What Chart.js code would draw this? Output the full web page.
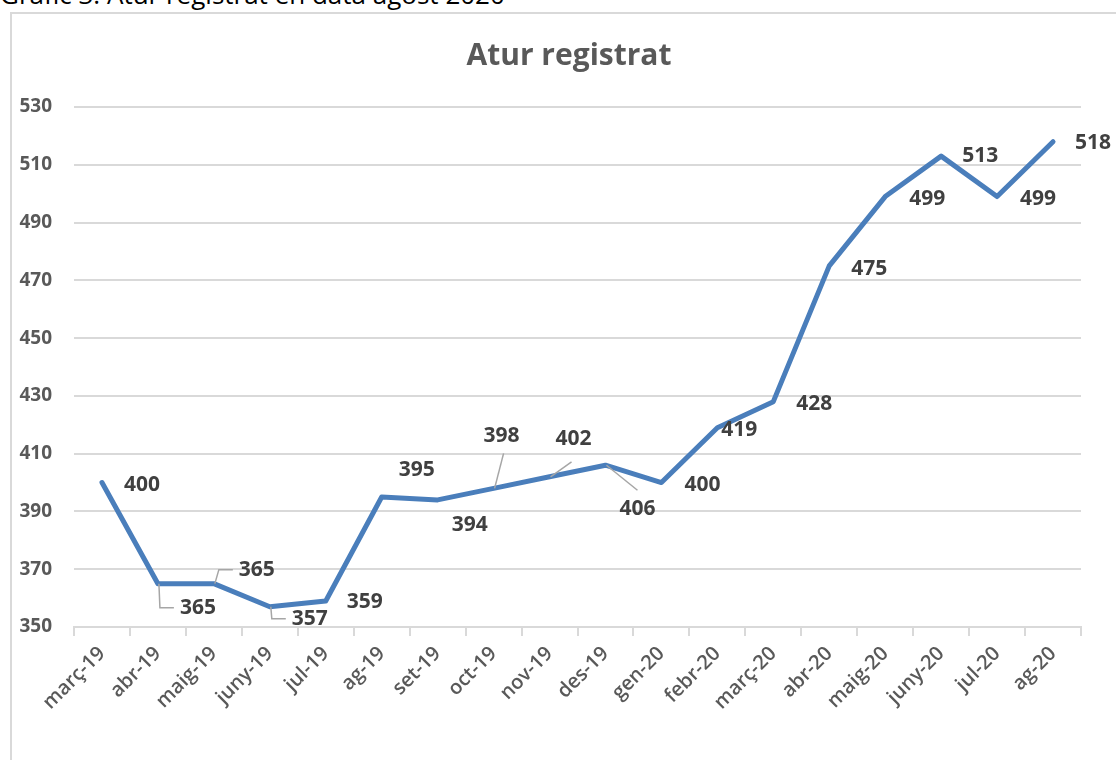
<!DOCTYPE html>
<html>
<head>
<meta charset="utf-8">
<script src="https://cdn.jsdelivr.net/npm/chart.js@4.4.0/dist/chart.umd.min.js"></script>
<style>
  body { margin: 0; background: #fff; width: 1116px; height: 760px; overflow: hidden; position: relative; }
  .caption { position: absolute; left: 0; top: -24px; font: 26px "Open Sans", sans-serif; color: #000; white-space: nowrap; }
  .box { position: absolute; left: 10px; top: 12px; width: 1120px; height: 760px; border: 2px solid #d9d9d9; box-sizing: border-box; }
  canvas { position: absolute; left: 0; top: 0; }
</style>
</head>
<body>
<div class="caption">Gràfic 3. Atur registrat en data agost 2020</div>
<div class="box"></div>
<canvas id="chart" width="1116" height="760"></canvas>
<script>
// Data
const months = ['març-19', 'abr-19', 'maig-19', 'juny-19', 'jul-19', 'ag-19', 'set-19', 'oct-19', 'nov-19',
  'des-19', 'gen-20', 'febr-20', 'març-20', 'abr-20', 'maig-20', 'juny-20', 'jul-20', 'ag-20'];
const unemployed = [400, 365, 365, 357, 359, 395, 394, 398, 402, 406, 400, 419, 428, 475, 499, 513, 499, 518];
const yMin = 350;
const yMax = 530;
const yStep = 20;

// Label placement (pixel offsets from the point, and leader lines)
const labelOffsets = [
  [40, 2], [40, 24], [43, -14], [40, 12], [39, 1], [35, -27], [32, 25], [8, -52], [24, -38],
  [32, 44], [41, 2], [22, 2], [41, 2], [40, 3], [42, 2], [39, 0], [41, 2], [40, 1]
];
const leaders = [
  null, 'elbow', 'elbow', 'elbow', null, null, null, [2, 17], [-2, 23],
  [0, -19], null, null, null, null, null, null, null, null
];

const textColor = '#595959';
const labelColor = '#404040';

const dataLabels = {
  id: 'dataLabels',
  afterDatasetsDraw(chart) {
    const ctx = chart.ctx;
    const meta = chart.getDatasetMeta(0);
    ctx.save();
    ctx.font = 'bold 21px "Open Sans", sans-serif';
    ctx.textAlign = 'center';
    ctx.textBaseline = 'middle';
    meta.data.forEach((pt, i) => {
      const lx = pt.x + labelOffsets[i][0];
      const ly = pt.y + labelOffsets[i][1];
      const text = String(unemployed[i]);
      const w = ctx.measureText(text).width;
      const lead = leaders[i];
      if (lead) {
        ctx.strokeStyle = '#a6a6a6';
        ctx.lineWidth = 1.5;
        ctx.beginPath();
        ctx.moveTo(pt.x + 1, pt.y);
        if (lead === 'elbow') {
          const dir = ly > pt.y ? 1 : -1;
          const sx = dir > 0 ? pt.x + 2 : pt.x + 5;
          ctx.lineTo(sx, ly);
          ctx.lineTo(lx - w / 2 - 6, ly);
        } else {
          ctx.lineTo(lx + lead[0], ly + lead[1]);
        }
        ctx.stroke();
      }
      ctx.fillStyle = labelColor;
      ctx.fillText(text, lx, ly);
    });
    ctx.restore();
  }
};

const titlePlugin = {
  id: 'titleText',
  afterDraw(chart) {
    const ctx = chart.ctx;
    ctx.save();
    ctx.font = 'bold 30px "Open Sans", sans-serif';
    ctx.fillStyle = textColor;
    ctx.textAlign = 'center';
    ctx.textBaseline = 'middle';
    ctx.fillText('Atur registrat', 569, 56);
    ctx.restore();
  }
};

new Chart(document.getElementById('chart'), {
  type: 'line',
  data: {
    labels: months,
    datasets: [{
      data: unemployed,
      borderColor: '#4a7ebb',
      borderWidth: 5,
      pointRadius: 0,
      tension: 0,
      borderJoinStyle: 'round',
      borderCapStyle: 'round'
    }]
  },
  options: {
    responsive: false,
    animation: false,
    layout: { padding: { left: 0, right: 35, top: 107, bottom: 0 } },
    plugins: { legend: { display: false }, tooltip: { enabled: false }, title: { display: false } },
    scales: {
      x: {
        offset: true,
        afterFit(scale) { scale.height = 133; },
        grid: { offset: true, drawOnChartArea: false, color: '#d9d9d9', lineWidth: 2, tickLength: 9 },
        border: { color: '#d9d9d9', width: 2 },
        ticks: {
          minRotation: 45, maxRotation: 45, autoSkip: false, padding: 6,
          color: textColor, font: { family: '"Open Sans", sans-serif', size: 20, weight: '600' }
        }
      },
      y: {
        min: yMin, max: yMax,
        afterFit(scale) { scale.width = 74; },
        grid: { color: '#d9d9d9', lineWidth: 2, drawTicks: false },
        border: { display: false },
        ticks: {
          stepSize: yStep, padding: 22,
          color: textColor, font: { family: '"Open Sans", sans-serif', size: 19, weight: 'bold' }
        }
      }
    }
  },
  plugins: [dataLabels, titlePlugin]
});
</script>
</body>
</html>
